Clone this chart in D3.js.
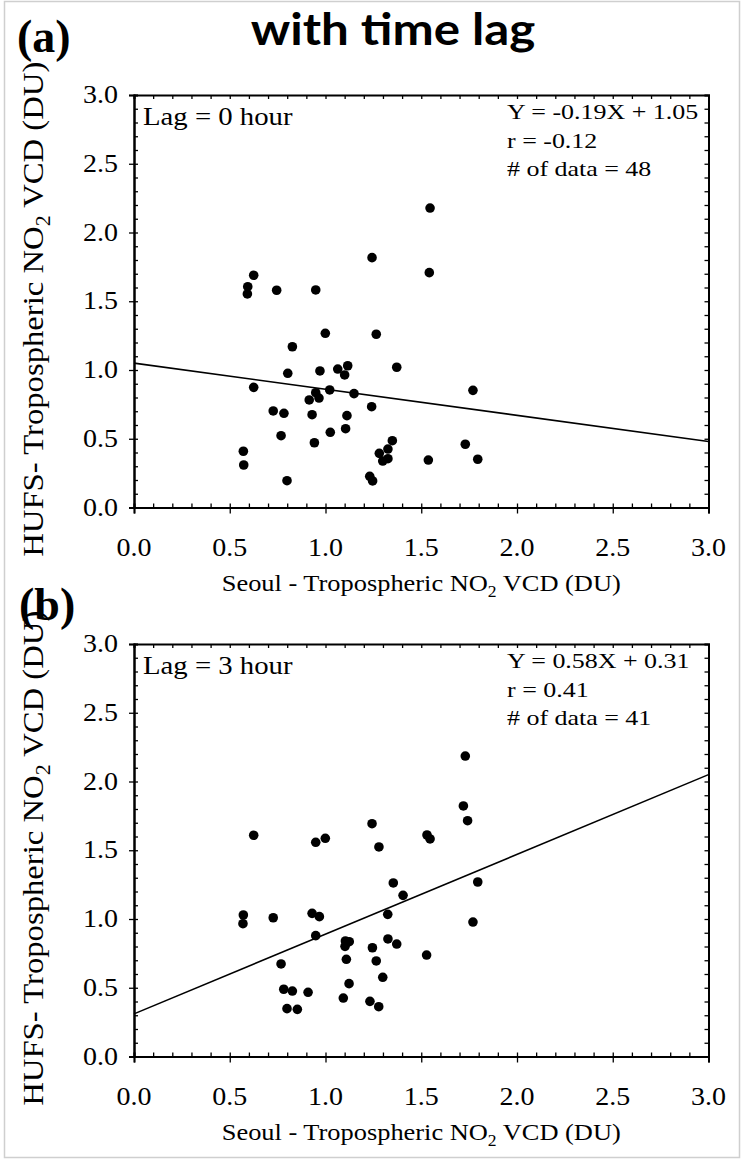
<!DOCTYPE html>
<html>
<head>
<meta charset="utf-8">
<script src="https://cdn.jsdelivr.net/npm/d3@7"></script>
<style>
  body { margin: 0; background: #fff; }
  svg { display: block; }
  text { font-family: "Liberation Serif", "Times New Roman", Times, "DejaVu Serif", serif; }
</style>
</head>
<body>
<svg id="chart"></svg>
<script>
// ---- data ----
const lag0X = [1.546, 1.243, 1.542, 0.625, 0.594, 0.592, 0.745, 0.949, 0.999, 1.265,
  0.827, 0.803, 0.971, 1.064, 1.116, 1.100, 1.372, 0.625, 1.022, 0.949,
  0.915, 0.966, 1.149, 1.241, 0.727, 0.783, 0.930, 1.112, 0.768, 1.025,
  1.105, 0.942, 1.349, 1.326, 1.281, 1.326, 1.299, 0.571, 0.573, 1.537,
  1.231, 1.246, 0.799, 1.770, 1.730, 1.795]
const lag0Y = [2.178, 1.817, 1.708, 1.689, 1.606, 1.553, 1.580, 1.582, 1.267, 1.260,
  1.169, 0.976, 0.993, 1.007, 1.031, 0.964, 1.020, 0.874, 0.855, 0.835,
  0.782, 0.796, 0.828, 0.733, 0.702, 0.685, 0.675, 0.668, 0.522, 0.547,
  0.573, 0.471, 0.486, 0.425, 0.394, 0.355, 0.338, 0.409, 0.309, 0.345,
  0.227, 0.193, 0.195, 0.852, 0.460, 0.351]

const lag3X = [0.625, 0.949, 0.999, 1.243, 1.279, 1.530, 1.546, 1.354, 1.405, 1.325,
  0.571, 0.727, 0.930, 0.968, 0.569, 0.949, 1.104, 1.124, 1.102, 1.326,
  1.372, 1.245, 1.528, 0.768, 1.109, 1.265, 1.299, 1.123, 0.782, 0.827,
  0.909, 1.093, 1.232, 1.278, 0.799, 0.853, 1.730, 1.720, 1.742, 1.795,
  1.770]
const lag3Y = [1.609, 1.558, 1.587, 1.693, 1.524, 1.611, 1.582, 1.262, 1.172, 1.034,
  1.029, 1.009, 1.041, 1.017, 0.966, 0.879, 0.840, 0.835, 0.801, 0.855,
  0.818, 0.791, 0.738, 0.673, 0.707, 0.695, 0.576, 0.530, 0.489, 0.476,
  0.467, 0.425, 0.401, 0.362, 0.348, 0.343, 2.185, 1.822, 1.715, 1.269,
  0.978]

const fitSlope = [-0.19, 0.58]
const fitIntercept = [1.05, 0.31]
const lagLabels = ['Lag = 0 hour', 'Lag = 3 hour']
const statLines = [
  ['Y = -0.19X + 1.05', 'r = -0.12', '# of data = 48'],
  ['Y = 0.58X + 0.31', 'r = 0.41', '# of data = 41']
]
const panelTags = ['(a)', '(b)']
const majorTicks = [0, 0.5, 1.0, 1.5, 2.0, 2.5, 3.0]
const minorTicks = d3.range(0, 31).map(d => d / 10)
const axisDomain = [0, 3]

// ---- layout ----
const W = 741, H = 1159

const svg = d3.select('#chart')
    .attr('width', W)
    .attr('height', H)

// faint frame round the whole picture
svg.append('rect')
    .attr('x', 4.5).attr('y', 1.5)
    .attr('width', W - 6).attr('height', H - 3)
    .attr('fill', 'none')
    .attr('stroke', '#cfcfcf')
    .attr('stroke-width', 1.5)

// text stretched a little sideways, like the scanned figure
function stretchedText(parent, x, y, str, size, sx, anchor) {
    let g = parent.append('g')
        .attr('transform', `translate(${x},${y}) scale(${sx},1)`)
    return g.append('text')
        .attr('text-anchor', anchor || 'start')
        .style('font-size', size + 'px')
        .text(str)
}

stretchedText(svg, 393, 45, 'with time lag', 44, 1.12, 'middle')
    .style('font-family', "Lato, 'Open Sans', sans-serif")
    .style('font-weight', 700)

function drawPanel(i, top, xs, ys) {
    let margin = {left: 134, top: top}
    let width = 574.5, height = 412.5

    let x = d3.scaleLinear().domain(axisDomain).range([0, width])
    let y = d3.scaleLinear().domain(axisDomain).range([height, 0])

    let chart = svg.append('g')
        .attr('transform', `translate(${margin.left},${margin.top})`)

    // minor ticks, pointing inward on all four sides
    chart.append('g')
        .attr('transform', `translate(0,${height})`)
        .call(d3.axisBottom(x).tickValues(minorTicks).tickSize(-4).tickFormat(''))
    chart.append('g')
        .call(d3.axisTop(x).tickValues(minorTicks).tickSize(-4).tickFormat(''))
    chart.append('g')
        .call(d3.axisLeft(y).tickValues(minorTicks).tickSize(-4).tickFormat(''))
    chart.append('g')
        .attr('transform', `translate(${width},0)`)
        .call(d3.axisRight(y).tickValues(minorTicks).tickSize(-4).tickFormat(''))

    // major ticks, outward on bottom and left
    chart.append('g')
        .attr('transform', `translate(0,${height})`)
        .call(d3.axisBottom(x).tickValues(majorTicks).tickSize(6).tickFormat(''))
    chart.append('g')
        .call(d3.axisLeft(y).tickValues(majorTicks).tickSize(5).tickFormat(''))

    chart.selectAll('.domain').attr('stroke', '#000').attr('stroke-width', 2)
    chart.selectAll('.tick line').attr('stroke', '#000').attr('stroke-width', 1.3)

    // tick labels
    majorTicks.forEach(v => {
        stretchedText(chart, x(v), height + 48, d3.format('.1f')(v), 25, 1.12, 'middle')
        stretchedText(chart, -16, y(v) + 8, d3.format('.1f')(v), 25, 1.12, 'end')
    })

    // fitted line
    let fit = d => fitSlope[i] * d + fitIntercept[i]
    chart.append('line')
        .attr('x1', x(axisDomain[0])).attr('y1', y(fit(axisDomain[0])))
        .attr('x2', x(axisDomain[1])).attr('y2', y(fit(axisDomain[1])))
        .attr('stroke', '#000')
        .attr('stroke-width', 1.6)

    chart.append('g')
        .selectAll('circle')
        .data(xs.map((d, k) => [d, ys[k]]))
        .join('circle')
        .attr('cx', d => x(d[0]))
        .attr('cy', d => y(d[1]))
        .attr('r', 4.8)
        .attr('fill', '#000')

    // annotations inside the frame
    stretchedText(chart, 9, 30, lagLabels[i], 25, 1.15)
    statLines[i].forEach((s, k) => {
        stretchedText(chart, 373, 24 + k * 28.5, s, 22, 1.18)
    })

    // x axis title with subscript
    let xt = chart.append('g')
        .attr('transform', `translate(${width / 2},${height + 83}) scale(1.1,1)`)
        .append('text')
        .attr('text-anchor', 'middle')
        .style('font-size', '24px')
    xt.append('tspan').text('Seoul - Tropospheric NO')
    xt.append('tspan').attr('dy', 6).style('font-size', '16px').text('2')
    xt.append('tspan').attr('dy', -6).text(' VCD (DU)')

    // y axis title, rotated
    let yt = chart.append('g')
        .attr('transform', `translate(${-91},${height / 2 + 8}) rotate(-90) scale(1.09,1)`)
        .append('text')
        .attr('text-anchor', 'middle')
        .style('font-size', '30px')
    yt.append('tspan').text('HUFS- Tropospheric NO')
    yt.append('tspan').attr('dy', 7).style('font-size', '20px').text('2')
    yt.append('tspan').attr('dy', -7).text(' VCD (DU)')
}

drawPanel(0, 95, lag0X, lag0Y)
drawPanel(1, 644, lag3X, lag3Y)

// panel tags
stretchedText(svg, 17, 52, panelTags[0], 46, 1).style('font-weight', 700)
stretchedText(svg, 19, 620, panelTags[1], 46, 1).style('font-weight', 700)
</script>
</body>
</html>
